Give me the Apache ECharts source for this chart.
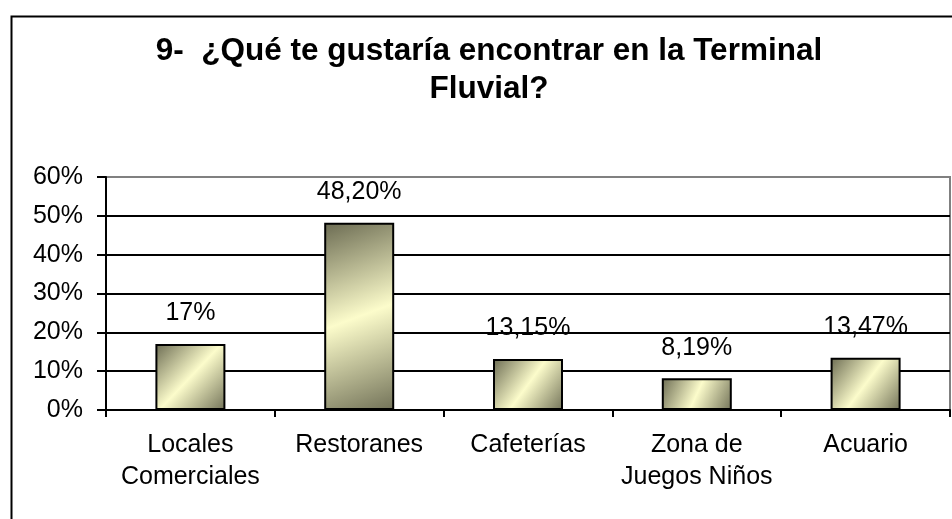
<!DOCTYPE html>
<html>
<head>
<meta charset="utf-8">
<script src="https://cdn.jsdelivr.net/npm/echarts@6/dist/echarts.min.js"></script>
<style>
  html, body { margin: 0; padding: 0; background: #fff; }
  #chart { width: 952px; height: 519px; }
</style>
</head>
<body>
<div id="chart"></div>
<script>
// datos
const categories = ['Locales\nComerciales', 'Restoranes', 'Cafeterías', 'Zona de\nJuegos Niños', 'Acuario'];
const values = [17, 48.2, 13.15, 8.19, 13.47];
const valueLabels = ['17%', '48,20%', '13,15%', '8,19%', '13,47%'];
const yTicks = ['0%', '10%', '20%', '30%', '40%', '50%', '60%'];
const titleText = '9-  ¿Qué te gustaría encontrar en la Terminal\nFluvial?';

const font = 'Liberation Sans, Arial, sans-serif';

let myChart = echarts.init(document.getElementById('chart'));
let option = {
  animation: false,
  backgroundColor: '#fff',
  textStyle: { fontFamily: font },
  graphic: [{
    type: 'rect',
    left: 9, top: 14,
    shape: { width: 960, height: 520 },
    style: { fill: 'none', stroke: '#000', lineWidth: 2 },
    z: -10
  }, {
    // titulo centrado en dos lineas
    type: 'text',
    x: 489, y: 32,
    style: {
      text: titleText,
      align: 'center',
      verticalAlign: 'top',
      font: 'bold 31.5px ' + font,
      lineHeight: 38,
      fill: '#000'
    }
  }],
  grid: {
    left: 106, right: 2, top: 177, bottom: 109,
    show: true, borderColor: '#808080', borderWidth: 2
  },
  xAxis: {
    type: 'category',
    data: categories,
    axisLine: { lineStyle: { color: '#000', width: 2 } },
    axisTick: { show: true, length: 7, lineStyle: { color: '#000', width: 2 } },
    axisLabel: {
      interval: 0,
      color: '#000', fontSize: 25, fontFamily: font, margin: 19, lineHeight: 32
    }
  },
  yAxis: {
    type: 'value',
    min: 0, max: 60, interval: 10,
    axisLine: { show: true, lineStyle: { color: '#000', width: 2 } },
    axisTick: { show: true, length: 9, lineStyle: { color: '#000', width: 2 } },
    splitLine: {
      lineStyle: {
        color: ['#000', '#000', '#000', '#000', '#000', '#000', '#808080'],
        width: 2
      }
    },
    axisLabel: {
      color: '#000', fontSize: 25, fontFamily: font, margin: 23,
      formatter: function (v) { return yTicks[Math.round(v / 10)]; }
    }
  },
  series: [{
    type: 'bar',
    data: values,
    barWidth: 70,
    itemStyle: {
      borderColor: '#000',
      borderWidth: 2,
      color: new echarts.graphic.LinearGradient(0, 0, 1, 1, [
        { offset: 0, color: '#6b6b52' },
        { offset: 0.5, color: '#fcfccb' },
        { offset: 1, color: '#727258' }
      ])
    },
    label: {
      show: true,
      position: 'top',
      distance: 18,
      color: '#000',
      fontSize: 25,
      fontFamily: font,
      formatter: function (p) { return valueLabels[p.dataIndex]; }
    }
  }]
};
myChart.setOption(option);
</script>
</body>
</html>
